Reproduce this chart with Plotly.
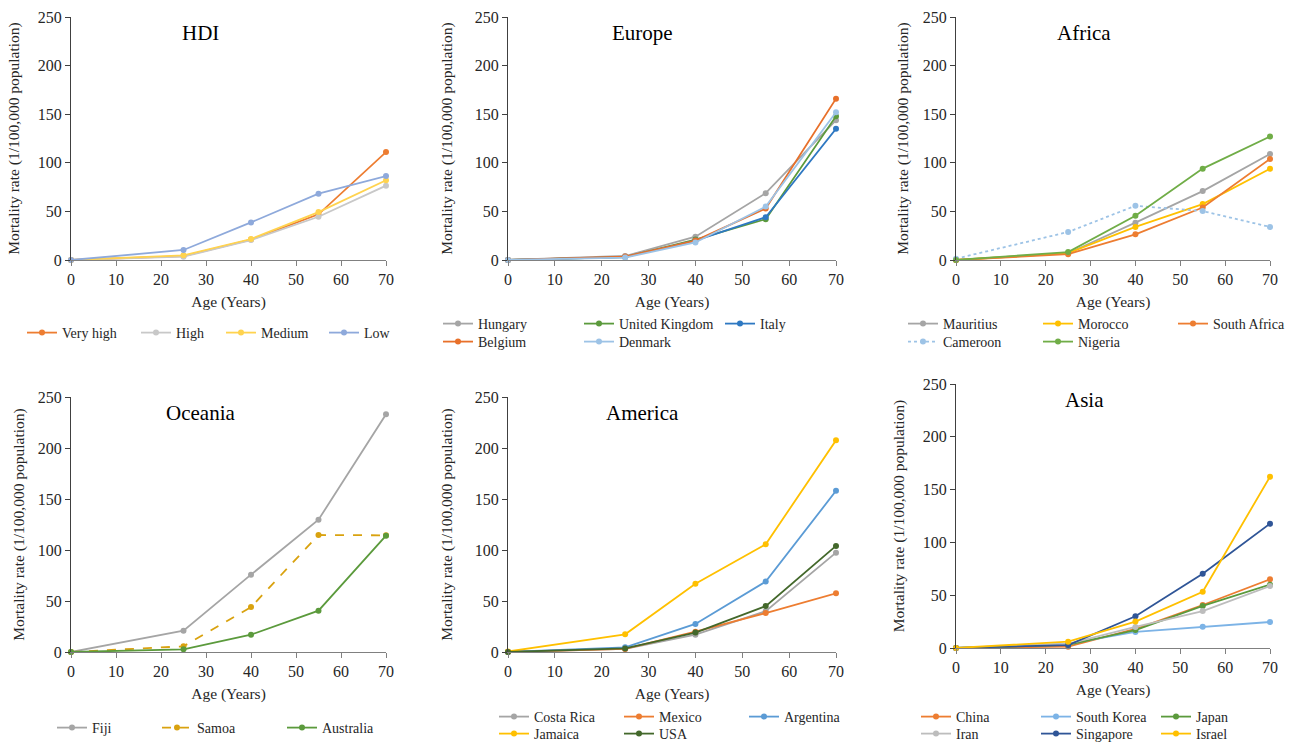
import plotly.graph_objects as go

# ---------------- data ----------------
ages = [0, 25, 40, 55, 70]
x_tick_vals = [0, 10, 20, 30, 40, 50, 60, 70]
y_tick_vals = [0, 50, 100, 150, 200, 250]
panel_titles = ["HDI", "Europe", "Africa", "Oceania", "America", "Asia"]

# HDI
hdi_very_high = [0, 4, 21, 47, 111]
hdi_high = [0, 3.4, 20.5, 44.5, 76.5]
hdi_medium = [0, 4.8, 21.6, 49.3, 82]
hdi_low = [0, 10.3, 38.7, 68.2, 86.3]

# Europe
eu_hungary = [0, 4.1, 24, 68.8, 143.8]
eu_uk = [0, 3, 21, 42, 148]
eu_italy = [0, 3, 20, 44, 135]
eu_belgium = [0, 3.5, 20, 53, 166]
eu_denmark = [0, 2.5, 18, 55, 152]

# Africa
af_mauritius = [0, 7, 38.4, 70.9, 109]
af_morocco = [0, 7, 34, 57.5, 93.8]
af_south_africa = [0, 6, 26.4, 54, 104]
af_cameroon = [1.4, 28.8, 55.8, 50.3, 34]
af_nigeria = [0, 8.2, 45.5, 94, 127]

# Oceania
oc_fiji = [0, 20.9, 75.8, 129.7, 233]
oc_samoa = [0, 5.6, 44, 114.7, 114.4]
oc_australia = [0, 2.6, 17, 40.5, 114]

# America
am_costa_rica = [0, 3, 17, 40, 97.4]
am_mexico = [0, 3, 19.9, 38.2, 57.5]
am_argentina = [0, 4.6, 27.5, 69, 158]
am_jamaica = [0.5, 17.3, 67, 105.6, 207.5]
am_usa = [0, 3.5, 19, 45, 104]

# Asia
as_china = [0, 1.3, 18, 40.7, 65]
as_south_korea = [0, 4, 15.2, 20.2, 24.6]
as_japan = [0, 3, 17, 39.8, 60]
as_iran = [0, 4, 20, 35, 58.7]
as_singapore = [0, 2.8, 30, 70.4, 117.7]
as_israel = [0, 6, 25, 53.3, 162.2]

# ---------------- layout helpers ----------------
W, H = 1295, 743
FONT = "'Liberation Serif', 'Times New Roman', Tinos, 'DejaVu Serif', serif"


def fx(px):
    return px / W


def fy(py):
    return 1 - py / H


# plot areas in pixels: (left, right, top, bottom)
areas = [
    (71, 386, 17, 260),
    (508, 836, 17, 260),
    (956, 1270, 17, 260),
    (71, 386, 397, 652),
    (508, 836, 397, 652),
    (956, 1270, 384, 648),
]
ytitle_standoff = [14, 18, 10, 9, 18, 14]
title_pos = [(200, 33), (642, 33), (1084, 33), (200, 413), (642, 413), (1084, 400)]

fig = go.Figure()

# series: (panel index, name, values, color, dash, legend id, legendwidth)
series = [
    (0, "Very high", hdi_very_high, "#ED7D31", "solid", "legend", 69),
    (0, "High", hdi_high, "#C8C8C8", "solid", "legend", 40),
    (0, "Medium", hdi_medium, "#FFD34F", "solid", "legend", 58),
    (0, "Low", hdi_low, "#8EA9DB", "solid", "legend", 30),

    (1, "Hungary", eu_hungary, "#A5A5A5", "solid", "legend2", 96),
    (1, "United Kingdom", eu_uk, "#5B9A3C", "solid", "legend2", 96),
    (1, "Italy", eu_italy, "#2E78C2", "solid", "legend2", 96),
    (1, "Belgium", eu_belgium, "#E8702A", "solid", "legend3", 96),
    (1, "Denmark", eu_denmark, "#9DC3E6", "solid", "legend3", 96),

    (2, "Mauritius", af_mauritius, "#A5A5A5", "solid", "legend4", 90),
    (2, "Morocco", af_morocco, "#FFC000", "solid", "legend4", 90),
    (2, "South Africa", af_south_africa, "#ED7D31", "solid", "legend4", 90),
    (2, "Cameroon", af_cameroon, "#9DC3E6", "dot", "legend5", 90),
    (2, "Nigeria", af_nigeria, "#70AD47", "solid", "legend5", 90),

    (3, "Fiji", oc_fiji, "#A5A5A5", "solid", "legend6", 60),
    (3, "Samoa", oc_samoa, "#D9A20F", "dash", "legend6", 80),
    (3, "Australia", oc_australia, "#5B9A3C", "solid", "legend6", 60),

    (4, "Costa Rica", am_costa_rica, "#A5A5A5", "solid", "legend7", 80),
    (4, "Mexico", am_mexico, "#ED7D31", "solid", "legend7", 80),
    (4, "Argentina", am_argentina, "#5B9BD5", "solid", "legend7", 80),
    (4, "Jamaica", am_jamaica, "#FFC000", "solid", "legend8", 80),
    (4, "USA", am_usa, "#43682B", "solid", "legend8", 80),

    (5, "China", as_china, "#ED7D31", "solid", "legend9", 75),
    (5, "South Korea", as_south_korea, "#7CB3E6", "solid", "legend9", 75),
    (5, "Japan", as_japan, "#5B9A3C", "solid", "legend9", 75),
    (5, "Iran", as_iran, "#BDBDBD", "solid", "legend10", 75),
    (5, "Singapore", as_singapore, "#2F5597", "solid", "legend10", 75),
    (5, "Israel", as_israel, "#FFC000", "solid", "legend10", 75),
]

for i, name, vals, color, dash, leg, lw in series:
    sfx = "" if i == 0 else str(i + 1)
    fig.add_trace(go.Scatter(
        x=ages, y=vals, name=name, mode="lines+markers",
        line=dict(color=color, width=1.8, dash=dash),
        marker=dict(color=color, size=6),
        xaxis="x" + sfx, yaxis="y" + sfx,
        legend=leg, legendwidth=lw, cliponaxis=False,
    ))

layout = dict(
    width=W, height=H,
    margin=dict(l=0, r=0, t=0, b=0, autoexpand=False),
    paper_bgcolor="white", plot_bgcolor="white",
    font=dict(family=FONT, size=15, color="#262626"),
    showlegend=True,
)

for i, (l, r, t, b) in enumerate(areas):
    sfx = "" if i == 0 else str(i + 1)
    layout["xaxis" + sfx] = dict(
        domain=[fx(l), fx(r)], anchor="y" + sfx, range=[0, 70],
        tickvals=x_tick_vals, ticks="outside", ticklen=5, tickcolor="#808080",
        showline=True, linecolor="#808080", linewidth=1,
        showgrid=False, zeroline=False, automargin=False,
        tickfont=dict(family=FONT, size=16, color="#262626"),
        title=dict(text="Age (Years)", font=dict(family=FONT, size=15.5, color="#262626"), standoff=8),
    )
    layout["yaxis" + sfx] = dict(
        domain=[fy(b), fy(t)], anchor="x" + sfx, range=[0, 250],
        tickvals=y_tick_vals, ticks="outside", ticklen=5, tickcolor="#404040",
        showline=True, linecolor="#404040", linewidth=1,
        showgrid=False, zeroline=False, automargin=False,
        tickfont=dict(family=FONT, size=16, color="#262626"),
        title=dict(text="Mortality rate (1/100,000 population)",
                   font=dict(family=FONT, size=15.5, color="#262626"),
                   standoff=ytitle_standoff[i]),
    )

# legends: (id, origin x px, row center y px)
legend_specs = [
    ("legend", 22, 333),
    ("legend2", 438, 324), ("legend3", 438, 342),
    ("legend4", 903, 324), ("legend5", 903, 342),
    ("legend6", 52, 728),
    ("legend7", 494, 717), ("legend8", 494, 734),
    ("legend9", 916, 717), ("legend10", 916, 734),
]
for lid, px, py in legend_specs:
    layout[lid] = dict(
        orientation="h", x=fx(px), y=fy(py), xanchor="left", yanchor="middle",
        bgcolor="rgba(0,0,0,0)", borderwidth=0,
        font=dict(family=FONT, size=14, color="#262626"),
        itemclick=False, itemdoubleclick=False,
    )

annotations = []
for (tx, ty), txt in zip(title_pos, panel_titles):
    annotations.append(dict(
        text=txt, x=fx(tx), y=fy(ty), xref="paper", yref="paper",
        xanchor="center", yanchor="middle", showarrow=False,
        font=dict(family=FONT, size=21, color="black"),
    ))
layout["annotations"] = annotations

fig.update_layout(**layout)
fig.write_html(
    "out.html",
    config={"displayModeBar": False},
    post_script="document.body.style.margin='0';document.body.style.overflow='hidden';",
)
